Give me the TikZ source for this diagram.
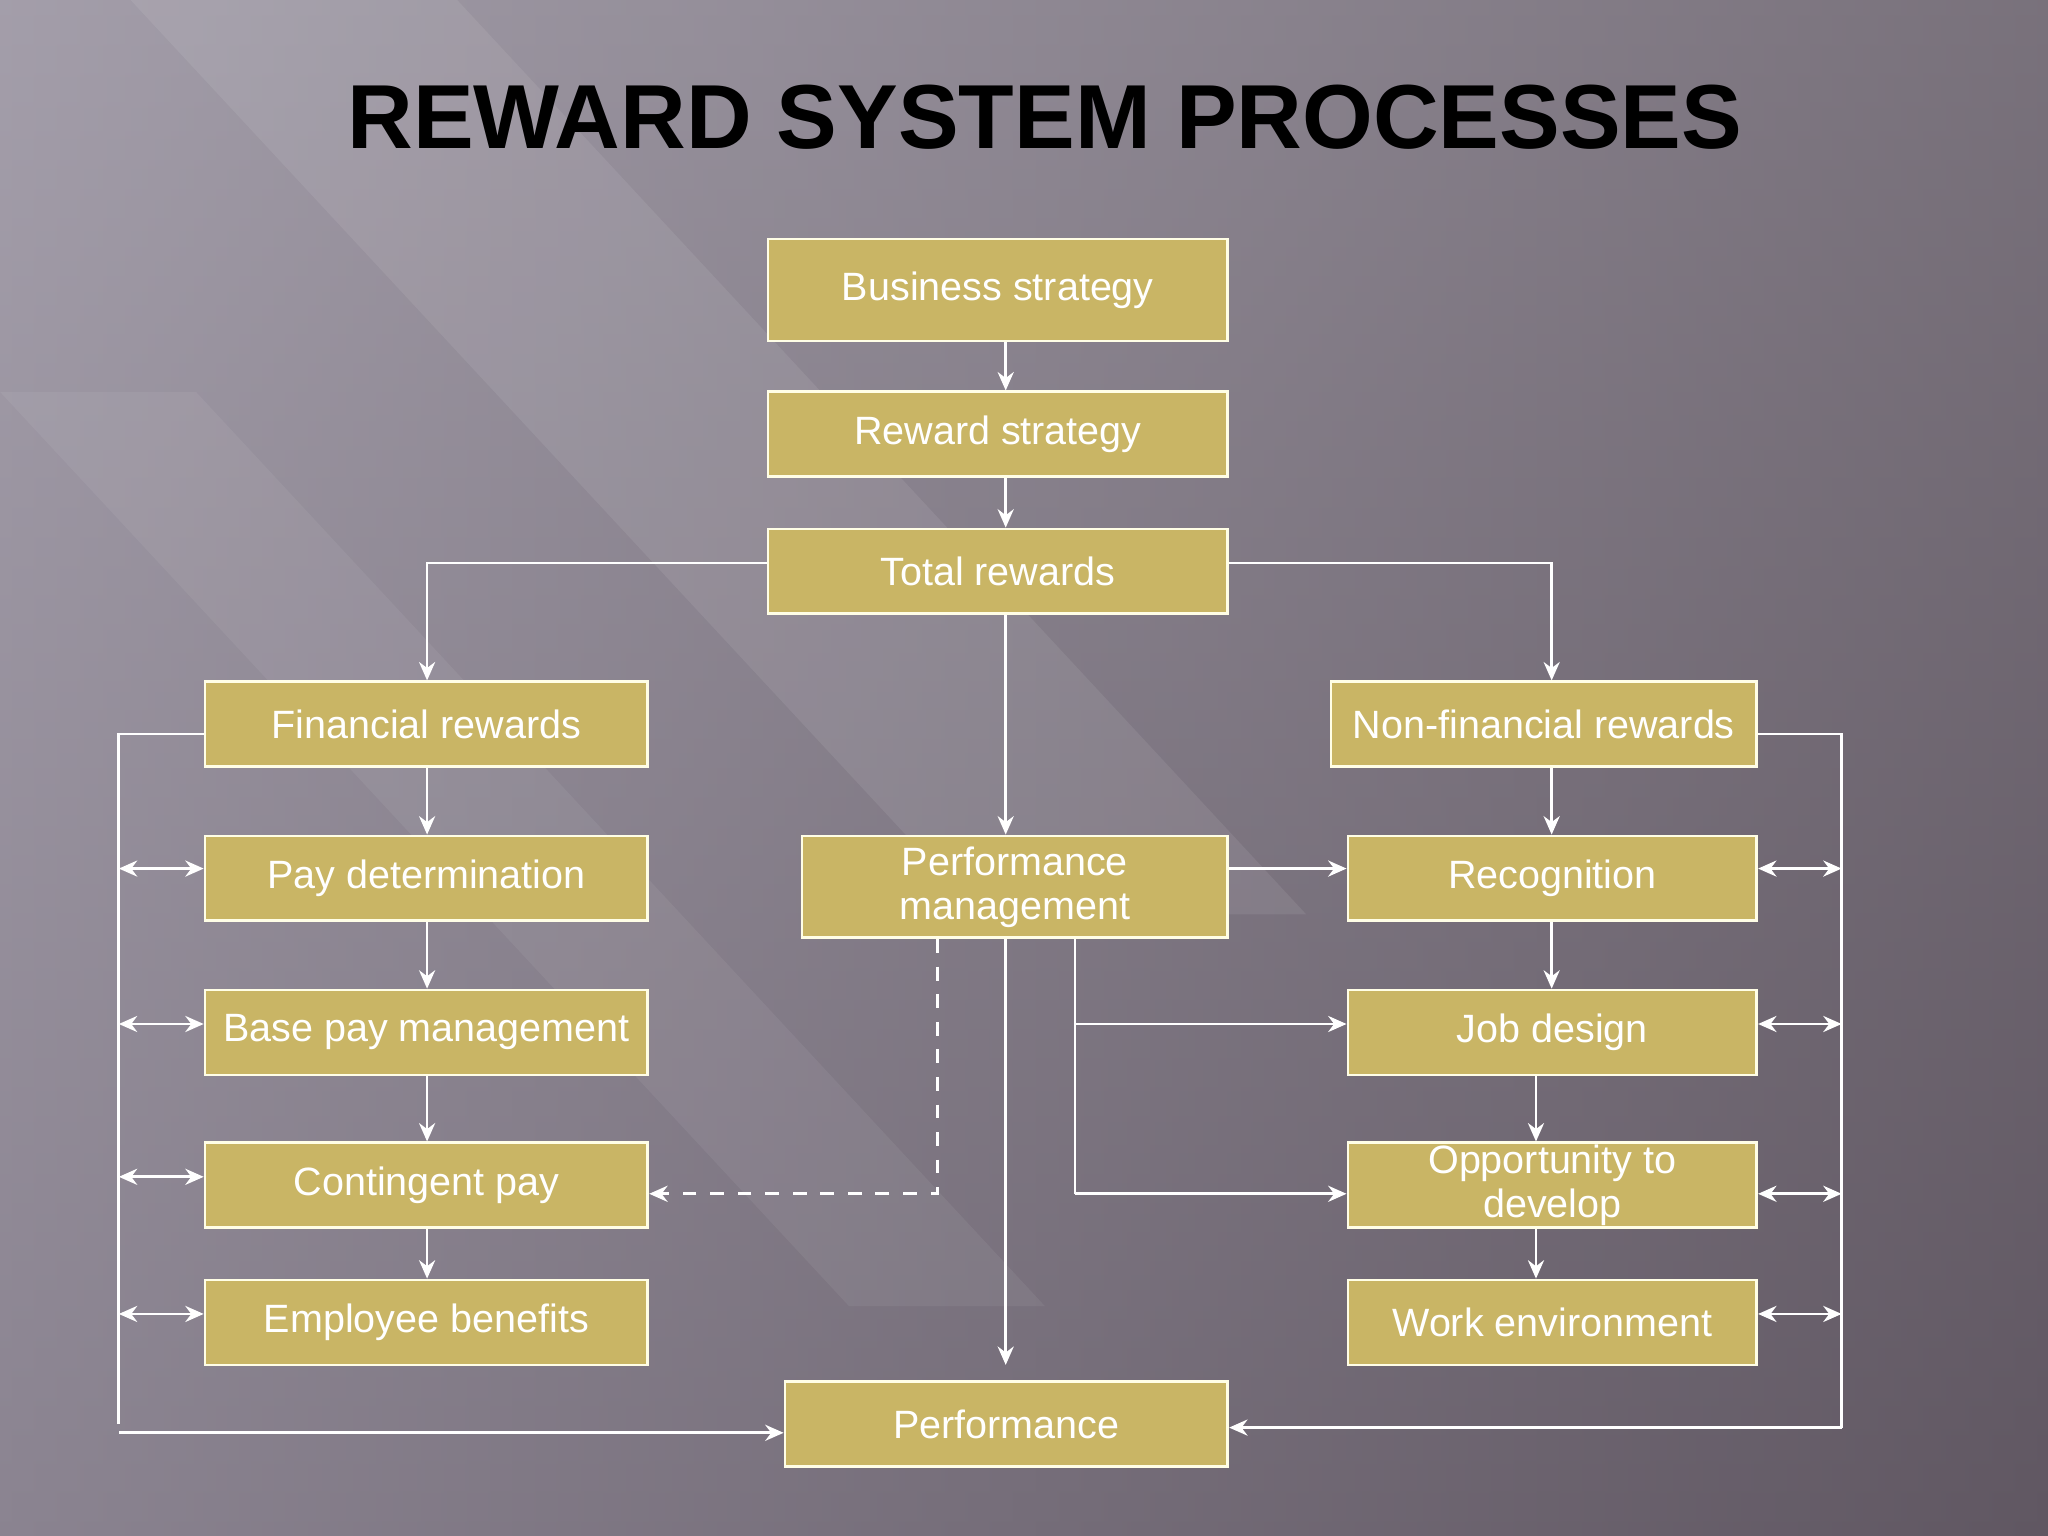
\documentclass[tikz,border=0pt]{standalone}
\usepackage{fontspec}
\setmainfont{Liberation Sans}
\usetikzlibrary{arrows.meta}
\begin{document}
\begin{tikzpicture}[x=0.01cm,y=-0.01cm,
  box/.style={draw=white!90!yellow,line width=0.6pt,fill=boxc,text=white,font=\fontsize{8.6}{9.6}\selectfont,align=center,inner sep=0pt},
  ln/.style={draw=white,line width=0.6pt},
  ar/.style={ln,-{Stealth[length=4pt,width=3.5pt]}},
  dar/.style={ln,{Stealth[length=4pt,width=3.5pt]}-{Stealth[length=4pt,width=3.5pt]}}]
\definecolor{boxc}{HTML}{C9B565}
\shade[left color={rgb,255:red,178;green,172;blue,186},right color={rgb,255:red,92;green,82;blue,92}] (0,0) rectangle (1568,1176);
\shade[top color={rgb,255:red,150;green,145;blue,155},bottom color={rgb,255:red,100;green,92;blue,104},opacity=0.5] (0,0) rectangle (1568,1176);
\fill[white,opacity=0.08] (100,0) -- (350,0) -- (1000,700) -- (750,700) -- cycle;
\fill[white,opacity=0.06] (0,300) -- (150,300) -- (800,1000) -- (650,1000) -- cycle;
\useasboundingbox (0,0) rectangle (1568,1176);
\node[font=\bfseries\fontsize{19.8}{22}\selectfont] (title) at (800,90) {REWARD SYSTEM PROCESSES};
\newcommand{\bx}[6]{\node[box,minimum width={(#4-#2)*0.01cm},minimum height={(#5-#3)*0.01cm}] (#1) at ({(#2+#4)/2},{(#3+#5)/2}) {#6};}
\bx{bs}{588}{183}{940}{261}{Business strategy}
\bx{rs}{588}{300}{940}{365}{Reward strategy}
\bx{tr}{588}{405}{940}{470}{Total rewards}
\bx{fr}{157}{522}{496}{587}{Financial rewards}
\bx{pd}{157}{640}{496}{705}{Pay determination}
\bx{bp}{157}{758}{496}{823}{Base pay management}
\bx{cp}{157}{875}{496}{940}{Contingent pay}
\bx{eb}{157}{980}{496}{1045}{Employee benefits}
\bx{nf}{1019}{522}{1345}{587}{Non-financial rewards}
\bx{rc}{1032}{640}{1345}{705}{Recognition}
\bx{jd}{1032}{758}{1345}{823}{Job design}
\bx{op}{1032}{875}{1345}{940}{Opportunity to\\develop}
\bx{we}{1032}{980}{1345}{1045}{Work environment}
\bx{pm}{614}{640}{940}{718}{Performance\\ management}
\bx{pf}{601}{1058}{940}{1123}{Performance}
\draw[ar] (bs.south -| 770,0) -- (rs.north -| 770,0);
\draw[ar] (rs.south -| 770,0) -- (tr.north -| 770,0);
\draw[ar] (tr.west |- 0,431) -- (327,431) -- (fr.north -| 327,0);
\draw[ar] (tr.east |- 0,431) -- (1188,431) -- (nf.north -| 1188,0);
\draw[ar] (tr.south -| 770,0) -- (pm.north -| 770,0);
\draw[ar] (pm.south -| 770,0) -- (770,1045);
\draw[ar] (fr.south -| 327,0) -- (pd.north -| 327,0);
\draw[ar] (pd.south -| 327,0) -- (bp.north -| 327,0);
\draw[ar] (bp.south -| 327,0) -- (cp.north -| 327,0);
\draw[ar] (cp.south -| 327,0) -- (eb.north -| 327,0);
\draw[ar] (nf.south -| 1188,0) -- (rc.north -| 1188,0);
\draw[ar] (rc.south -| 1188,0) -- (jd.north -| 1188,0);
\draw[ar] (jd.south -| 1176,0) -- (op.north -| 1176,0);
\draw[ar] (op.south -| 1176,0) -- (we.north -| 1176,0);
\draw[ar] (pm.east |- 0,665) -- (rc.west |- 0,665);
\draw[ln] (pm.south -| 823,0) -- (823,914);
\draw[ar] (823,784) -- (jd.west |- 0,784);
\draw[ar] (823,914) -- (op.west |- 0,914);
\draw[ar,dashed] (pm.south -| 718,0) -- (718,914) -- (cp.east |- 0,914);
\draw[ln] (fr.west |- 0,562) -- (91,562) -- (91,1090);
\foreach \y/\n in {665/pd,784/bp,901/cp,1006/eb} \draw[dar] (91,\y) -- (\n.west |- 0,\y);
\draw[ar] (91,1097) -- (pf.west |- 0,1097);
\draw[ln] (nf.east |- 0,562) -- (1410,562) -- (1410,1093);
\draw[ar] (1410,1093) -- (pf.east |- 0,1093);
\foreach \y/\n in {665/rc,784/jd,914/op,1006/we} \draw[dar] (1410,\y) -- (\n.east |- 0,\y);
\end{tikzpicture}
\end{document}
